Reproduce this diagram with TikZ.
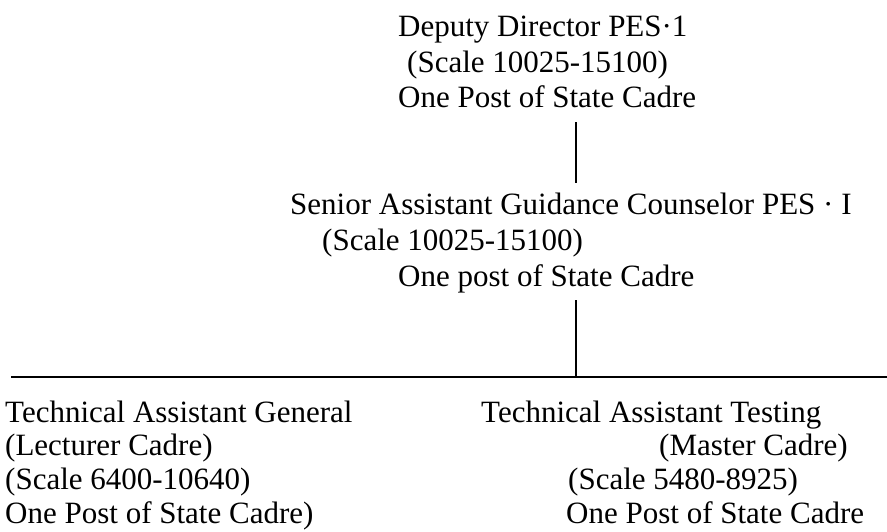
\documentclass[tikz,border=0pt]{standalone}
\usepackage{fontspec}
\setmainfont{Liberation Serif}
\begin{document}
\begin{tikzpicture}[x=1pt,y=-1pt,
  toptext/.style={anchor=base west,inner sep=0pt,font=\fontsize{31}{37}\selectfont},
  bottext/.style={anchor=base west,inner sep=0pt,font=\fontsize{31}{37}\selectfont},
  link/.style={line width=1.3pt}]
\useasboundingbox (0,0) rectangle (887,531);
% top block
\node[toptext] (dd1) at (398,36) {Deputy Director PES·1};
\node[toptext] (dd2) at (407,72) {(Scale 10025-15100)};
\node[toptext] (dd3) at (398,107) {One Post of State Cadre};
% middle block
\node[toptext] (sa1) at (290,214) {Senior Assistant Guidance Counselor PES · I};
\node[toptext] (sa2) at (322,250) {(Scale 10025-15100)};
\node[toptext] (sa3) at (398,286) {One post of State Cadre};
% left bottom block
\node[bottext] (tg1) at (5,422) {Technical Assistant General};
\node[bottext] (tg2) at (5,455) {(Lecturer Cadre)};
\node[bottext] (tg3) at (5,489) {(Scale 6400-10640)};
\node[bottext] (tg4) at (5,523) {One Post of State Cadre)};
% right bottom block
\node[bottext] (tt1) at (481,422) {Technical Assistant Testing};
\node[bottext] (tt2) at (659,455) {(Master Cadre)};
\node[bottext] (tt3) at (568,489) {(Scale 5480-8925)};
\node[bottext] (tt4) at (566,523) {One Post of State Cadre};
% connectors
\coordinate (a1) at (576,122);
\coordinate (a2) at (576,183);
\coordinate (b1) at (576,300);
\coordinate (b2) at (576,377);
\coordinate (hl) at (11,377);
\coordinate (hr) at (887,377);
\draw[link] (a1) -- (a2);
\draw[link] (b1) -- (b2);
\draw[link] (hl) -- (hr);
\end{tikzpicture}
\end{document}
